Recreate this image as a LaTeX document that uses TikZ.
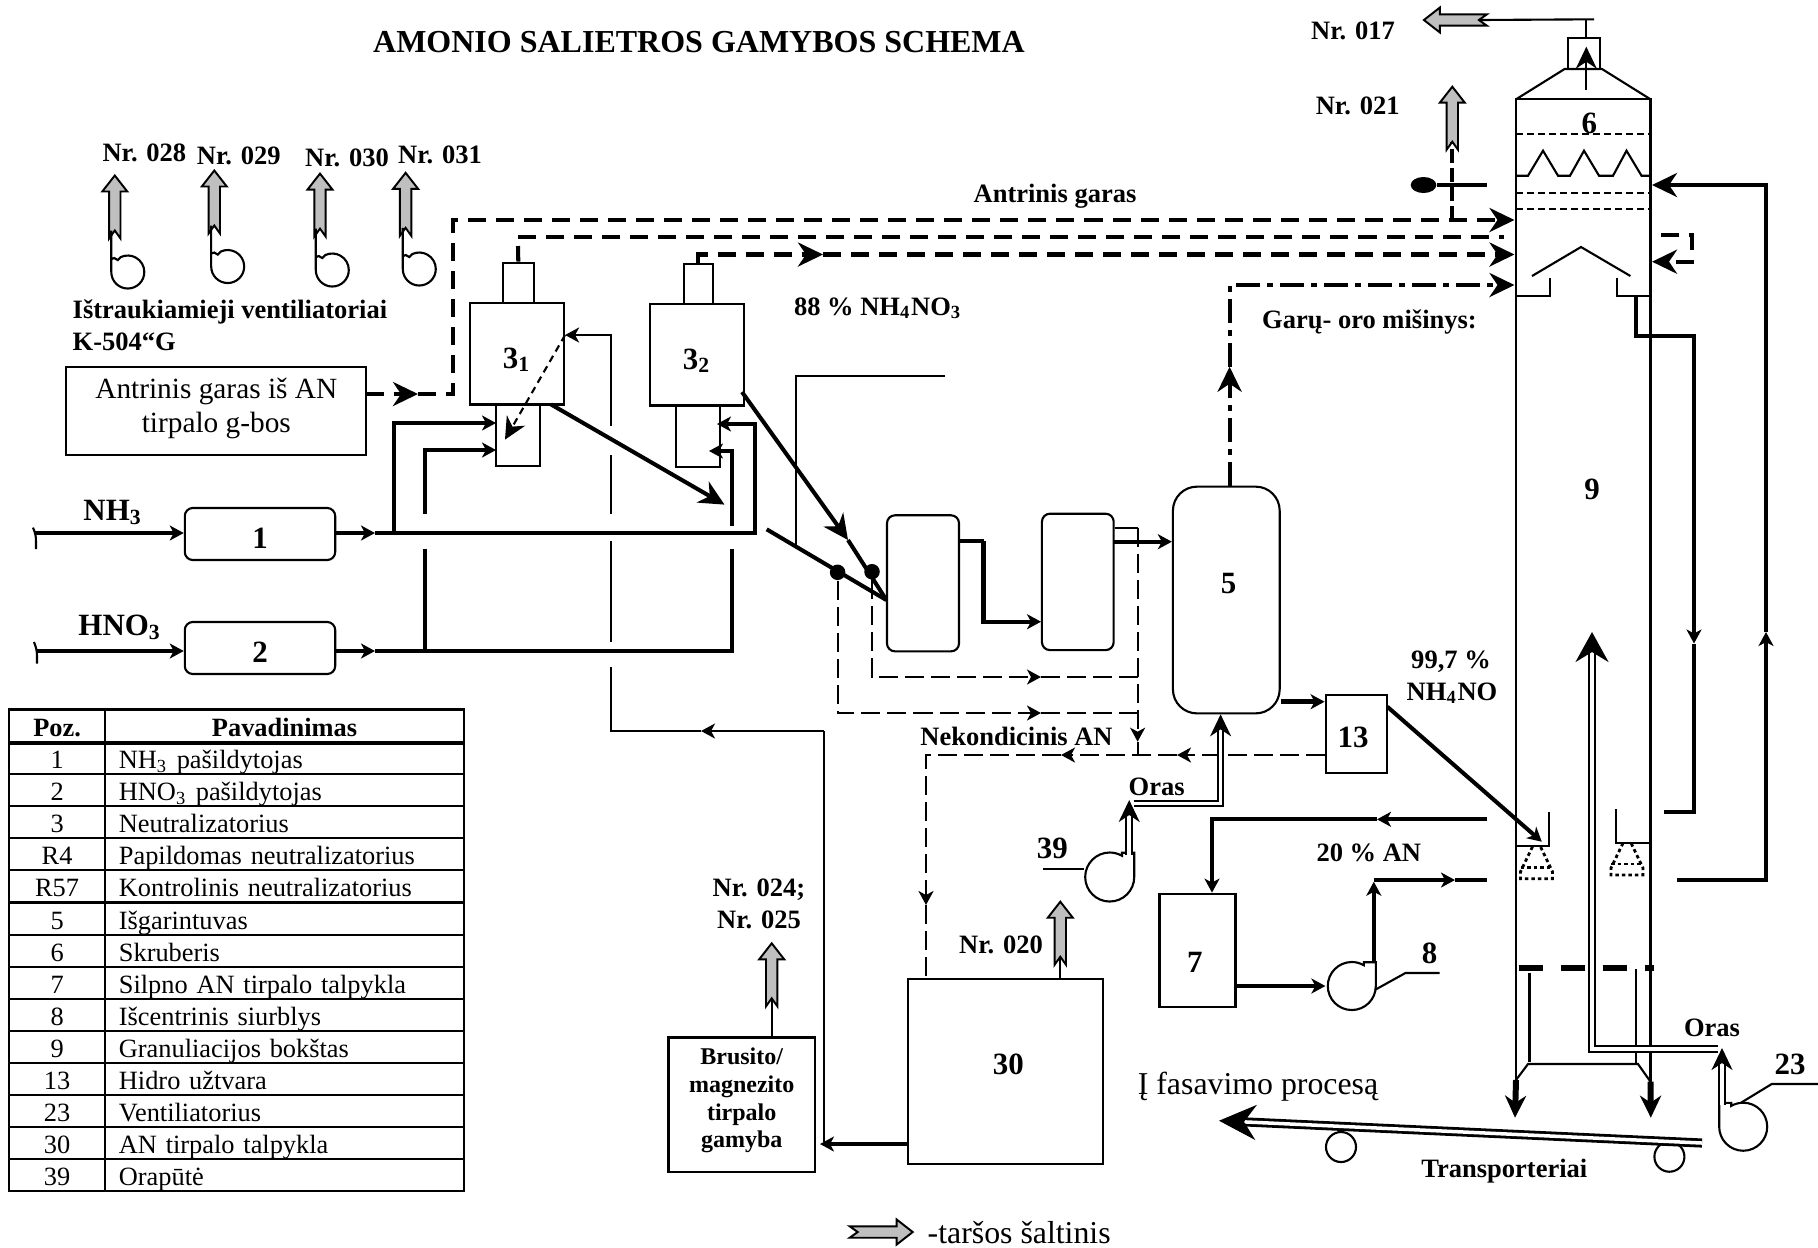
\documentclass[tikz,border=0pt]{standalone}
\usepackage{fontspec}
\setmainfont{Liberation Serif}
\usetikzlibrary{arrows.meta, shapes.geometric, calc}

\tikzset{
    emit/.pic={
        \draw[line width=.55pt, fill=gray!50] (0,0) -- (12.5,16) -- (5.7,16) -- (5.7,63) -- (0,55) -- (-5.7,63) -- (-5.7,16) -- (-12.5,16) -- cycle;
        \coordinate (-notch) at (0,55);
    }
}

\begin{document}
\begin{tikzpicture}[
        x=.01cm, y=-.01cm,
        unit/.style={draw, line width=.6pt, inner sep=0pt, text height=.295cm, text depth=0pt, font=\fontsize{8.8}{10}\selectfont\bfseries},
        rbox/.style={unit, rounded corners=.08cm},
        tag/.style={inner sep=0pt, yshift=-.023cm, font=\fontsize{7.54}{9}\selectfont\bfseries},
        num/.style={inner sep=0pt, yshift=-.012cm, font=\fontsize{8.8}{10}\selectfont\bfseries},
        plain/.style={inner sep=0pt, font=\fontsize{9.05}{11}\selectfont},
        cellpoz/.style={draw, line width=.6pt, inner sep=0pt, minimum width=.957cm, minimum height=.321cm, text height=.23cm, text depth=.02cm, font=\fontsize{7.5}{9}\selectfont},
        cellname/.style={draw, line width=.6pt, inner xsep=.14cm, inner ysep=0pt, text width=3.31cm, minimum height=.321cm, text height=.23cm, text depth=.02cm, align=left, font=\fontsize{7.5}{9}\selectfont},
        fancirc/.style={circle, inner sep=0pt, minimum size=.33cm},
        pumpcirc/.style={circle, inner sep=0pt, minimum size=.49cm},
        roller/.style={draw, circle, line width=.6pt, inner sep=0pt, minimum size=.3cm},
        blob/.style={circle, fill=black, inner sep=0pt, minimum size=.155cm},
        pipe/.style={line width=.6pt},
        flow/.style={line width=1.15pt},
        steam/.style={line width=1.15pt, dash pattern=on .18cm off .1cm},
        thindash/.style={line width=.6pt, dash pattern=on .19cm off .07cm},
        dashdot/.style={line width=1.15pt, dash pattern=on .24cm off .07cm on .06cm off .07cm},
        dbl/.style={line width=.6pt, double, double distance=.035cm},
        tipS/.style={-{Stealth[length=.14cm, width=.15cm, inset=.04cm]}},
        tipM/.style={-{Stealth[length=.22cm, width=.21cm, inset=.07cm]}},
        tipL/.style={-{Stealth[length=.25cm, width=.24cm, inset=.08cm]}}
    ]
        \useasboundingbox (0,0) rectangle (1818,1247);
        \fill[white] (0,0) rectangle (1818,1247);

        \node[inner sep=0pt, font=\fontsize{9.1}{11}\selectfont\bfseries] (title) at (699,42) {AMONIO SALIETROS GAMYBOS SCHEMA};

        % --- exhaust fans ---
        \foreach \n/\x/\y/\cx/\cy/\lx/\ly in {028/114.8/175.5/128.5/272/144.4/150.5, 029/214.3/170.5/228.4/266.5/238.8/153.5, 030/320/173.6/333/270/347/155.5, 031/405.6/172.8/420/269/440/152.4} {
            \pic (e\n) at (\x,\y) {emit};
            \node[fancirc] (fan\n) at (\cx,\cy) {};
            \node[tag] (lab\n) at (\lx,\ly) {Nr. \n};
            \draw[pipe] (e\n-notch -| fan\n.west) -- (fan\n.west) arc[start angle=180, end angle=475, radius=.165cm] -- ++(-3,3) -- ++(-3.5,-2) -- ++(-3,1);
        }
        \node[tag, anchor=west] (fanslab) at (72,309.4) {Ištraukiamieji ventiliatoriai};
        \node[tag, anchor=west] (fanslabb) at (72,339) {K-504“G};

        % --- steam source ---
        \node[draw, line width=.6pt, inner sep=0pt, minimum width=3cm, minimum height=.88cm] (antbox) at (216.3,410.8) {};
        \node[inner sep=0pt, align=center, font=\fontsize{8.34}{9.7}\selectfont] (anttext) at (216.3,408.4) {Antrinis garas iš AN\\tirpalo g-bos};

        % --- neutralizers ---
        \node[unit, minimum width=.94cm, minimum height=1.014cm] (n1main) at (517,353.7) {3\textsubscript{1}};
        \node[unit, minimum width=.307cm, minimum height=.403cm] (n1top) at (518.3,282.8) {};
        \node[unit, minimum width=.44cm, minimum height=.62cm] (n1bot) at (518,435) {};
        \node[unit, minimum width=.94cm, minimum height=1.015cm] (n2main) at (697,354.7) {3\textsubscript{2}};
        \node[unit, minimum width=.293cm, minimum height=.40cm] (n2top) at (698.3,284) {};
        \node[unit, minimum width=.44cm, minimum height=.62cm] (n2bot) at (698.4,436) {};

        % --- heaters ---
        \node[rbox, minimum width=1.503cm, minimum height=.52cm] (box1) at (260,534) {1};
        \node[rbox, minimum width=1.503cm, minimum height=.52cm] (box2) at (260,648) {2};
        \node[num] (nh3lab) at (113,511) {NH\textsubscript{3}};
        \node[num] (hno3lab) at (120,626) {HNO\textsubscript{3}};
        \coordinate (nh3in) at (35,533);
        \coordinate (hno3in) at (37,651);
        \draw[pipe] (33,527.6) .. controls (36,535) .. (36,549);
        \draw[pipe] (34,642) .. controls (37,650) .. (37,663.5);

        % NH3 line
        \coordinate (nh3out) at (375,533);
        \coordinate (nh3br) at (394,533);
        \coordinate (nh3end) at (755,533);
        \coordinate (n1feedA) at (496,423);
        \coordinate (n2feedA) at (717,424);
        \draw[flow, tipS] (nh3in) -- (nh3in -| box1.west);
        \draw[flow, tipS] (nh3out -| box1.east) -- (nh3out);
        \draw[flow, tipS] (nh3out) -- (nh3end) |- (n2feedA);
        \draw[flow, tipS] (nh3br) |- (n1feedA);

        % HNO3 line
        \coordinate (hno3out) at (375,651);
        \coordinate (hno3br) at (425,651);
        \coordinate (hno3end) at (732,651);
        \coordinate (hopA) at (425,549);
        \coordinate (hopB) at (425,514);
        \coordinate (hopC) at (732,549);
        \coordinate (hopD) at (732,526);
        \coordinate (n1feedB) at (496,450);
        \coordinate (n2feedB) at (709,451);
        \draw[flow, tipS] (hno3in) -- (hno3in -| box2.west);
        \draw[flow, tipS] (hno3out -| box2.east) -- (hno3out);
        \draw[flow] (hno3out) -- (hno3end) -- (hopC);
        \draw[flow] (hno3br) -- (hopA);
        \draw[flow, tipS] (hopB) |- (n1feedB);
        \draw[flow, tipS] (hopD) |- (n2feedB);

        % --- secondary steam ---
        \coordinate (antout) at (366,394);
        \coordinate (antmid) at (418,394);
        \coordinate (steamcorner) at (453,220);
        \coordinate (twA) at (1514.5,220);
        \draw[steam, tipL] (antout) -- (antmid);
        \draw[steam, tipL] (antmid) -| (steamcorner) -- (twA);

        \coordinate (n1stub) at (518,246);
        \coordinate (n1steam) at (518,236.7);
        \coordinate (twB) at (1504,236.7);
        \draw[flow] (n1top.north) -- (n1stub);
        \draw[steam] (n1steam) -- (twB);

        \coordinate (n2steam) at (698,254.5);
        \coordinate (n2mid) at (823,254.5);
        \coordinate (twC) at (1514.5,254.5);
        \draw[steam, tipL] (n2top.north) |- (n2mid);
        \draw[steam, tipL] (n2mid) -- (twC);

        \node[tag] (antlab) at (1055,193.6) {Antrinis garas};
        \node[tag] (n88lab) at (878,306) {88 \% NH\textsubscript{4}NO\textsubscript{3}};

        % --- neutralizer outlets ---
        \coordinate (n1out) at (551,404.4);
        \coordinate (n1tip) at (724.5,504.6);
        \draw[flow, tipL] (n1out) -- (n1tip);
        \coordinate (n1ret) at (610.7,335);
        \coordinate (n1dash) at (505,439.6);
        \draw[pipe, dash pattern=on .07cm off .05cm, tipM] (n1ret -| n1main.east) -- (n1dash);
        \coordinate (retA) at (610.7,426);
        \coordinate (retB) at (610.7,455);
        \coordinate (retC) at (610.7,514);
        \coordinate (retD) at (610.7,541);
        \coordinate (retE) at (610.7,642);
        \coordinate (retF) at (610.7,667);
        \coordinate (retG) at (610.7,731);
        \coordinate (retmid) at (701,731);
        \coordinate (retcorner) at (824,731);
        \coordinate (retend) at (824,1142);
        \draw[pipe, tipS] (retA) -- (n1ret) -- (n1ret -| n1main.east);
        \draw[pipe] (retB) -- (retC);
        \draw[pipe] (retD) -- (retE);
        \draw[pipe] (retF) -- (retG) -- (retmid);
        \draw[pipe, tipS] (retcorner) -- (retmid);
        \draw[pipe] (retend) -- (retcorner);

        \coordinate (n2out) at (742,392);
        \coordinate (n2tip) at (848,540);
        \coordinate (confl) at (886.4,600);
        \coordinate (mixin) at (766.7,529.3);
        \coordinate (restA) at (945,376);
        \coordinate (restB) at (796.4,376);
        \coordinate (restC) at (796.4,547);
        \draw[flow, tipL] (n2out) -- (n2tip);
        \draw[flow] (n2tip) -- (confl);
        \draw[flow] (mixin) -- (confl);
        \draw[pipe] (restA) -- (restB) -- (restC);

        % --- control neutralizers and evaporator ---
        \node[rbox, minimum width=.72cm, minimum height=1.36cm] (conA) at (923,583.3) {};
        \node[rbox, minimum width=.717cm, minimum height=1.363cm] (conB) at (1077.8,581.9) {};
        \node[unit, rounded corners=.24cm, minimum width=1.067cm, minimum height=2.266cm] (box5) at (1226.3,600) {};
        \node[num] (lab5) at (1228.5,582.7) {5};
        \node[blob] (dotA) at (837.6,572.3) {};
        \node[blob] (dotB) at (872,571.7) {};

        \coordinate (abA) at (983.5,541);
        \coordinate (abB) at (1041,621.7);
        \coordinate (b5) at (1113.6,541.7);
        \draw[flow] (abA -| conA.east) -- (abA);
        \draw[flow, tipS] (abA) |- (abB);
        \draw[flow, tipS] (b5) -- (b5 -| box5.west);

        % off-spec lines
        \coordinate (railtop) at (1137.6,527.7);
        \coordinate (railmid) at (1137.6,741.7);
        \coordinate (railbot) at (1137.6,755);
        \coordinate (offB) at (1041,677);
        \coordinate (offBend) at (1137.6,677);
        \coordinate (offA) at (1041,713);
        \coordinate (offAend) at (1137.6,713);
        \draw[pipe] (railtop -| conB.east) -- (railtop);
        \draw[thindash, tipS] (railtop) -- (railmid);
        \draw[thindash] (railmid) -- (railbot);
        \draw[thindash, tipS] (dotB.south) |- (offB);
        \draw[thindash] (offB) -- (offBend);
        \draw[thindash, tipS] (dotA.south) |- (offA);
        \draw[thindash] (offA) -- (offAend);
        \node[tag] (offlab) at (1016.5,734.5) {Nekondicinis AN};

        % --- hydro seal ---
        \node[unit, minimum width=.617cm, minimum height=.777cm] (box13) at (1356.5,733.8) {};
        \node[num] (lab13) at (1353,736) {13};
        \coordinate (e13) at (1325.6,701.7);
        \draw[line width=1.5pt, tipS] (e13 -| box5.east) -- (e13 -| box13.west);
        \coordinate (botA) at (1177,755);
        \coordinate (botB) at (1061,755);
        \coordinate (botC) at (926,755);
        \coordinate (botD) at (926,905);
        \draw[thindash, tipS] (botA -| box13.west) -- (botA);
        \draw[thindash, tipS] (botA) -- (botB);
        \draw[thindash, tipS] (botB) -- (botC) -- (botD);
        \node[tag] (lab99) at (1451,659) {99,7 \%};
        \node[tag] (labnh4) at (1452,690.7) {NH\textsubscript{4}NO};
        \coordinate (s13) at (1387.3,706.7);
        \coordinate (sprayL) at (1541.8,841.7);
        \draw[flow, tipS] (s13) -- (sprayL);

        % --- tank 30 and solution unit ---
        \node[unit, minimum width=1.956cm, minimum height=1.85cm] (box30) at (1005.5,1071.8) {};
        \node[num] (lab30) at (1008.3,1063.3) {30};
        \node[draw, line width=.7pt, inner sep=0pt, minimum width=1.46cm, minimum height=1.34cm] (brusbox) at (741.7,1104.7) {};
        \node[inner sep=0pt, align=center, font=\fontsize{6.83}{7.85}\selectfont\bfseries] (brustext) at (741.7,1100.5) {Brusito/\\magnezito\\tirpalo\\gamyba};
        \draw[thindash] (botD) -- (botD |- box30.north);
        \coordinate (retfeed) at (820,1144);
        \draw[line width=1.3pt, tipS] (box30.west |- retfeed) -- (retfeed);
        \pic (e024) at (771.7,943.3) {emit};
        \pic (e020) at (1060.3,901.7) {emit};
        \draw[pipe] (e024-notch) -- (e024-notch |- brusbox.north);
        \draw[pipe] (e020-notch) -- (e020-notch |- box30.north);
        \node[tag] (lab024) at (759,887.3) {Nr. 024;};
        \node[tag] (lab025) at (759,917.3) {Nr. 025};
        \node[tag] (lab020) at (1001,942.7) {Nr. 020};

        % --- blower 39 ---
        \node[pumpcirc] (pump39) at (1109,877) {};
        \draw[pipe] (pump39.east) arc[start angle=0, end angle=-300, radius=.245cm] -- ++(0,-3) -| (pump39.east);
        \node[num] (lab39) at (1052.4,847.3) {39};
        \coordinate (lead39) at (1042.8,869.3);
        \draw[pipe] (lead39) -- (lead39 -| pump39.west);
        \coordinate (airA) at (1133.7,803.4);
        \coordinate (airB) at (1220.6,803.4);
        \coordinate (airC) at (1220.6,714.3);
        \coordinate (airD) at (1129.2,855);
        \coordinate (airE) at (1129.2,800);
        \draw[dbl, tipM] (airA) -- (airB) -- (airC);
        \draw[dbl, tipM] (airD) -- (airE);
        \node[tag] (orasA) at (1156.7,784.5) {Oras};

        % --- tank 7 and pump 8 ---
        \node[unit, minimum width=.76cm, minimum height=1.13cm] (box7) at (1197.5,950.2) {};
        \node[num] (lab7) at (1194.8,961) {7};
        \coordinate (anend) at (1487,819.3);
        \coordinate (anmid) at (1377,819.3);
        \coordinate (ancorner) at (1212,819.3);
        \draw[flow, tipS] (anend) -- (anmid);
        \draw[flow, tipS] (anmid) -- (ancorner) -- (ancorner |- box7.north);
        \node[tag] (lab20) at (1368.8,851) {20 \% AN};
        \node[pumpcirc] (pump8) at (1350.6,986) {};
        \draw[pipe] (pump8.east) arc[start angle=0, end angle=-300, radius=.24cm] -- ++(0,-3) -| (pump8.east);
        \draw[line width=1.3pt, tipS] (box7.east |- pump8.west) -- (pump8.west);
        \coordinate (p8out) at (1373.8,963);
        \coordinate (p8turn) at (1373.8,881.7);
        \coordinate (p8mid) at (1455,880);
        \coordinate (p8end) at (1487,880);
        \draw[flow, tipS] (p8out) -- (p8turn);
        \draw[flow, tipS] (p8turn |- p8mid) -- (p8mid);
        \draw[flow] (p8mid) -- (p8end);
        \node[num] (lab8) at (1429.7,952) {8};
        \coordinate (lead8A) at (1374.7,990);
        \coordinate (lead8B) at (1405.4,973);
        \coordinate (lead8C) at (1439.7,973);
        \draw[pipe] (lead8A) -- (lead8B) -- (lead8C);

        % --- scrubber and prilling tower ---
        \coordinate (twTL) at (1516,99.3);
        \coordinate (twTR) at (1650.5,99.3);
        \coordinate (twBL) at (1516,1080);
        \coordinate (twBR) at (1650.5,1081.7);
        \coordinate (coneL) at (1564.6,69);
        \coordinate (coneR) at (1602,69);
        \draw[pipe] (twBL) -- (twTL) -- (twTR) -- (twBR);
        \draw[pipe] (twTL) -- (coneL) -- (coneR) -- (twTR);
        \node[draw, line width=.6pt, inner sep=0pt, minimum width=.322cm, minimum height=.307cm] (stack) at (1584,53.6) {};
        \coordinate (stackin) at (1586.3,90);
        \coordinate (stacktip) at (1586.3,46.7);
        \draw[pipe, tipM] (stackin) -- (stacktip);
        \coordinate (stacktop) at (1586.3,19.3);
        \coordinate (stackend) at (1594,19.3);
        \pic[rotate=90] (e017) at (1423.9,20) {emit};
        \draw[pipe] (stack.north -| stacktop) -- (stacktop);
        \draw[pipe] (e017-notch) -- (stackend);
        \node[tag] (lab017) at (1353,28.5) {Nr. 017};
        \pic (e021) at (1452.3,86.7) {emit};
        \node[tag] (lab021) at (1357.7,103.7) {Nr. 021};
        \node[num] (lab6) at (1589.4,122) {6};
        \node[num] (lab9) at (1592,488) {9};
        \foreach \yy in {134,193.3,209} {
            \draw[pipe, dash pattern=on .07cm off .04cm] (1516,\yy) -- (1650.5,\yy);
        }
        \draw[pipe] (1516,175.7) -- (1528,175.7) -- (1543,150.7) -- (1558,175.7) -- (1570,175.7) -- (1584,150.7) -- (1599,175.7) -- (1613,175.7) -- (1626.5,150.7) -- (1641.5,175.7) -- (1650.5,175.7);
        \draw[pipe] (1532,276) -- (1581,247) -- (1630.4,276);
        \draw[pipe] (1516,295.7) -| (1550,277.7);
        \draw[pipe] (1616.6,277.7) |- (1650.5,295.7);

        % steam trap next to the scrubber
        \node[ellipse, fill=black, inner sep=0pt, minimum width=.256cm, minimum height=.16cm] (trap) at (1423.5,185) {};
        \coordinate (trapend) at (1486.5,185);
        \draw[flow] (trap.east) -- (trapend);
        \coordinate (e021low) at (1452.3,220);
        \draw[flow, dash pattern=on .14cm off .05cm] (e021low) -- (e021-notch);

        % dash-dot vapour line
        \coordinate (vapmid) at (1229.6,366.7);
        \coordinate (twD) at (1514.5,285);
        \draw[dashdot, tipL] (vapmid |- box5.north) -- (vapmid);
        \draw[dashdot, tipL] (vapmid) |- (twD);
        \node[tag] (vaplab) at (1369.5,320) {Garų- oro mišinys:};

        % liquor loops on the right
        \coordinate (loopA) at (1677,880);
        \coordinate (loopB) at (1766,632);
        \coordinate (twE) at (1652,185);
        \draw[flow, tipS] (loopA) -| (loopB);
        \draw[flow, tipL] (loopB) |- (twE);
        \coordinate (loopC) at (1635.6,295.7);
        \coordinate (loopD) at (1694,336);
        \coordinate (loopE) at (1694,643.5);
        \coordinate (loopF) at (1694,812);
        \coordinate (loopG) at (1664,812);
        \draw[flow, tipS] (loopC) |- (loopD) -- (loopE);
        \draw[flow] (loopE) -- (loopF) -- (loopG);
        \coordinate (sideA) at (1661,235);
        \coordinate (sideB) at (1692,235);
        \coordinate (sideC) at (1692,261.7);
        \coordinate (twF) at (1652,261.7);
        \draw[steam, tipL] (sideA) -- (sideB) -- (sideC) -- (twF);

        % pans and sprays
        \draw[pipe] (1516,845.7) -| (1549,812.3);
        \draw[pipe] (1616,809.3) |- (1650.5,842.7);
        \foreach \sx/\sy in {1536.5/846.7, 1627/843} {
            \begin{scope}[shift={(\sx,\sy)}]
                \draw[line width=.8pt, dash pattern=on .035cm off .03cm] (-4,0) -- (-16,25) -- (-16,32) -- (16,32) -- (16,25) -- (4,0);
                \draw[line width=.8pt, dash pattern=on .035cm off .03cm] (-16,21) -- (16,21);
            \end{scope}
        }

        % tower bottom
        \draw[line width=1.7pt, dash pattern=on .24cm off .18cm] (1518.5,968.3) -- (1654,968.3);
        \draw[pipe] (1529.5,973) -- (1529.5,1061.7);
        \draw[pipe] (1635.7,969) -- (1635.7,1063);
        \draw[pipe] (twBL) -- (1528,1064) -- (1638,1064) -- (twBR);
        \coordinate (dropL) at (1515,1117.7);
        \coordinate (dropR) at (1650.8,1117.7);
        \draw[line width=1.7pt, tipM] (twBL) -- (dropL);
        \draw[line width=1.7pt, tipM] (twBR) -- (dropR);

        % fan 23 and air feed
        \node[pumpcirc] (pump23) at (1744.4,1126.7) {};
        \draw[pipe] (pump23.west) arc[start angle=180, end angle=480, radius=.24cm] -- ++(0,-3) -| (pump23.west);
        \node[num] (lab23) at (1790,1063) {23};
        \coordinate (lead23A) at (1741,1102.7);
        \coordinate (lead23B) at (1771.7,1084);
        \coordinate (lead23C) at (1818,1084);
        \draw[pipe] (lead23A) -- (lead23B) -- (lead23C);
        \coordinate (airF) at (1722,1105);
        \coordinate (airG) at (1722,1048);
        \coordinate (airH) at (1718,1049);
        \coordinate (airI) at (1592,1049);
        \coordinate (airJ) at (1592,632);
        \draw[dbl, tipM] (airF) -- (airG);
        \draw[dbl, -{Stealth[length=.3cm, width=.33cm, inset=.1cm]}] (airH) -- (airI) -- (airJ);
        \node[tag] (orasB) at (1712,1025.5) {Oras};

        % conveyor
        \node[roller] (rollA) at (1341,1147) {};
        \node[roller] (rollB) at (1669.4,1156.7) {};
        \coordinate (convR) at (1702,1143);
        \coordinate (convL) at (1219,1120.7);
        \draw[dbl, line width=.8pt, -{Stealth[length=.37cm, width=.35cm, inset=.12cm]}] (convR) -- (convL);
        \node[tag] (convlab) at (1504.3,1169) {Transporteriai};
        \node[plain] (packlab) at (1258,1087) {Į fasavimo procesą};

        % --- parts table ---
        \node[cellpoz, font=\fontsize{7.5}{9}\selectfont\bfseries] (hpoz) at (57.1,725.5) {Poz.};
        \node[cellname, font=\fontsize{7.5}{9}\selectfont\bfseries, align=center] (hname) at (284.5,725.5) {Pavadinimas};
        \foreach \p/\t [count=\i from 0] in {1/NH\textsubscript{3} pašildytojas, 2/HNO\textsubscript{3} pašildytojas, 3/Neutralizatorius, R4/Papildomas neutralizatorius, R57/Kontrolinis neutralizatorius, 5/Išgarintuvas, 6/Skruberis, 7/Silpno AN tirpalo talpykla, 8/Išcentrinis siurblys, 9/Granuliacijos bokštas, 13/Hidro užtvara, 23/Ventiliatorius, 30/AN tirpalo talpykla, 39/Orapūtė} {
            \pgfmathsetmacro{\ry}{758+32.1*\i}
            \node[cellpoz] (poz\i) at (57.1,\ry) {\p};
            \node[cellname] (name\i) at (284.5,\ry) {\t};
        }
        \draw[line width=1.2pt] (hpoz.south west) -- (hname.south east);

        % --- legend ---
        \pic[rotate=-90] (elegend) at (912.7,1232) {emit};
        \node[plain, anchor=west] (leglab) at (927,1233) {-taršos šaltinis};

    \end{tikzpicture}
\end{document}
